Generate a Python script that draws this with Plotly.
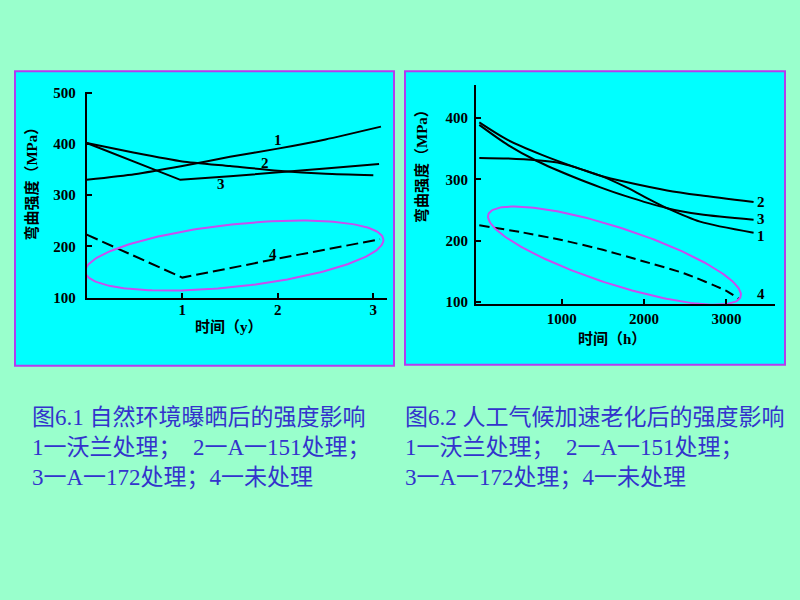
import numpy as np
import plotly.graph_objects as go

# ---------------- data ----------------
# Fig 6.1 natural exposure, time in years
left_t1 = [0, 0.5, 1.0, 1.5, 2.0, 2.5, 3.08]
left_s1 = [330, 341, 357, 375, 391, 409, 434]
left_t2 = [0, 0.5, 1.0, 1.5, 2.0, 2.5, 3.0]
left_s2 = [402, 383, 366, 357, 348, 342, 339]
left_t3 = [0, 0.98, 1.5, 2.0, 2.5, 3.06]
left_s3 = [402, 330, 337, 344, 352, 361]
left_t4 = [0, 1.0, 2.0, 3.07]
left_s4 = [223, 139, 176, 214]

# Fig 6.2 accelerated weathering, time in hours
right_t1 = [0, 350, 760, 1160, 1470, 1770, 2000, 2280, 2680, 3330]
right_s1 = [393, 364, 340, 320, 306, 288, 272, 253, 231, 213]
right_t2 = [0, 350, 700, 1000, 1160, 1470, 1770, 2280, 2680, 3330]
right_s2 = [335, 334, 331, 326, 320, 306, 296, 282, 274, 263]
right_t3 = [0, 350, 700, 1160, 1470, 1770, 2280, 2680, 3330]
right_s3 = [389, 356, 330, 303, 287, 273, 253, 243, 234]
right_t4 = [0, 500, 1000, 1500, 2000, 2500, 3000, 3150]
right_s4 = [225, 214, 201, 185, 166, 146, 118, 105]

left_xticks = [1, 2, 3]
left_yticks = [100, 200, 300, 400, 500]
right_xticks = [1000, 2000, 3000]
right_yticks = [100, 200, 300, 400]

# labels for curves
left_lab_x = [2.0, 1.87, 1.41, 1.95]
left_lab_y = [407, 363, 321, 185]
right_lab_x = [3414, 3414, 3414, 3420]
right_lab_y = [207, 263, 236, 113]
curve_names = ["1", "2", "3", "4"]

captions_left = ["图6.1 自然环境曝晒后的强度影响",
                 "1一沃兰处理；  2一A一151处理；",
                 "3一A一172处理；4一未处理"]
captions_right = ["图6.2 人工气候加速老化后的强度影响",
                  "1一沃兰处理；  2一A一151处理；",
                  "3一A一172处理；4一未处理"]

# ---------------- layout constants ----------------
W, H = 800, 600
L_XDOM = [86.7 / W, 386.7 / W]
L_YDOM = [1 - 298 / H, 1 - 87 / H]
L_XR = [0, 3.14]
L_YR = [100, 502]
R_XDOM = [476 / W, 775 / W]
R_YDOM = [1 - 305 / H, 1 - 80 / H]
R_XR = [-40, 3590]
R_YR = [96, 454]

BG = "#99FFCC"
PANEL = "#00FFFF"
BORDER = "#B43CF0"
ELL = "#C84EF0"
CAP = "#3333CC"


def px_per_unit(dom, rng, size):
    return (dom[1] - dom[0]) * size / (rng[1] - rng[0])


def ellipse(cx, cy, a, b, ang, xpp, ypp, n=200):
    t = np.linspace(0, 2 * np.pi, n)
    r = np.radians(ang)
    dx = a * np.cos(t) * np.cos(r) - b * np.sin(t) * np.sin(r)
    dy = a * np.cos(t) * np.sin(r) + b * np.sin(t) * np.cos(r)
    return cx + dx / xpp, cy + dy / ypp


fig = go.Figure()

line_style = dict(color="black", width=2)
# left chart
fig.add_trace(go.Scatter(x=left_t1, y=left_s1, mode="lines", line=dict(**line_style, shape="spline", smoothing=0.6), xaxis="x", yaxis="y"))
fig.add_trace(go.Scatter(x=left_t2, y=left_s2, mode="lines", line=dict(**line_style, shape="spline", smoothing=0.6), xaxis="x", yaxis="y"))
fig.add_trace(go.Scatter(x=left_t3, y=left_s3, mode="lines", line=dict(**line_style), xaxis="x", yaxis="y"))
fig.add_trace(go.Scatter(x=left_t4, y=left_s4, mode="lines", line=dict(color="black", width=2, dash="12px,5px"), xaxis="x", yaxis="y"))

# right chart
for tx, sy in [(right_t1, right_s1), (right_t2, right_s2), (right_t3, right_s3)]:
    fig.add_trace(go.Scatter(x=tx, y=sy, mode="lines", line=dict(**line_style, shape="spline", smoothing=0.8), xaxis="x2", yaxis="y2"))
fig.add_trace(go.Scatter(x=right_t4, y=right_s4, mode="lines", line=dict(color="black", width=2, dash="10px,5px", shape="spline", smoothing=0.6), xaxis="x2", yaxis="y2"))

# highlight ellipses
lx, ly = ellipse(1.545, 182, 150, 32, 6.4,
                 px_per_unit(L_XDOM, L_XR, W), px_per_unit(L_YDOM, L_YR, H))
fig.add_trace(go.Scatter(x=lx, y=ly, mode="lines", line=dict(color=ELL, width=2), xaxis="x", yaxis="y", cliponaxis=False))
rx, ry = ellipse(1641, 175.6, 133, 29, -18.5,
                 px_per_unit(R_XDOM, R_XR, W), px_per_unit(R_YDOM, R_YR, H))
fig.add_trace(go.Scatter(x=rx, y=ry, mode="lines", line=dict(color=ELL, width=2), xaxis="x2", yaxis="y2", cliponaxis=False))

tickfont = dict(family="Liberation Serif", size=15, color="black", weight="bold")
axis_common = dict(showgrid=False, zeroline=False, showline=True, linecolor="black", linewidth=2,
                   ticks="inside", ticklen=5, tickwidth=2, tickcolor="black", tickfont=tickfont,
                   fixedrange=True)

fig.update_layout(
    width=W, height=H, autosize=False,
    margin=dict(l=0, r=0, t=0, b=0),
    paper_bgcolor=BG, plot_bgcolor="rgba(0,0,0,0)",
    showlegend=False,
    xaxis=dict(domain=L_XDOM, range=L_XR, tickvals=left_xticks, anchor="y", ticklabelstandoff=-3, **axis_common),
    yaxis=dict(domain=L_YDOM, range=L_YR, tickvals=left_yticks, anchor="x", ticklabelstandoff=6, **axis_common),
    xaxis2=dict(domain=R_XDOM, range=R_XR, tickvals=right_xticks, anchor="y2", ticklabelstandoff=0, **axis_common),
    yaxis2=dict(domain=R_YDOM, range=R_YR, tickvals=right_yticks, anchor="x2", ticklabelstandoff=3, **axis_common),
)

# panels
for x0, x1, y0, y1 in [(15, 394, 66, 368), (405, 785, 66, 367)]:
    fig.add_shape(type="rect", xref="paper", yref="paper", x0=x0 / W, x1=x1 / W, y0=1 - y1 / H, y1=1 - y0 / H,
                  fillcolor=PANEL, line=dict(color=BORDER, width=2), layer="below")

ann = []
labfont = dict(family="Liberation Serif", size=15, color="black", weight="bold")
for nm, x, y in zip(curve_names, left_lab_x, left_lab_y):
    ann.append(dict(text=nm, x=x, y=y, xref="x", yref="y", showarrow=False, font=labfont))
for nm, x, y in zip(curve_names, right_lab_x, right_lab_y):
    ann.append(dict(text=nm, x=x, y=y, xref="x2", yref="y2", showarrow=False, font=labfont))

tfont = dict(family="Liberation Serif, Noto Sans CJK SC", size=15, color="black", weight="bold")
common_t = dict(xref="paper", yref="paper", showarrow=False, xanchor="center", yanchor="middle", font=tfont)
ann.append(dict(text="时间（y）", x=229 / W, y=1 - 328 / H, **common_t))
ann.append(dict(text="时间（h）", x=612 / W, y=1 - 340 / H, **common_t))
ann.append(dict(text="弯曲强度（MPa）", x=32 / W, y=1 - 178 / H, textangle=-90, **common_t))
ann.append(dict(text="弯曲强度（MPa）", x=422 / W, y=1 - 160 / H, textangle=-90, **common_t))

cfont = dict(family="Liberation Serif, Noto Sans CJK SC", size=23, color=CAP)
for caps, x0 in [(captions_left, 30), (captions_right, 403)]:
    ann.append(dict(text="<br>".join(caps), x=x0 / W, y=1 - 406 / H, xref="paper", yref="paper",
                    xanchor="left", yanchor="top", align="left", showarrow=False, font=cfont))

fig.update_layout(annotations=ann)
fig.write_html("out.html")
